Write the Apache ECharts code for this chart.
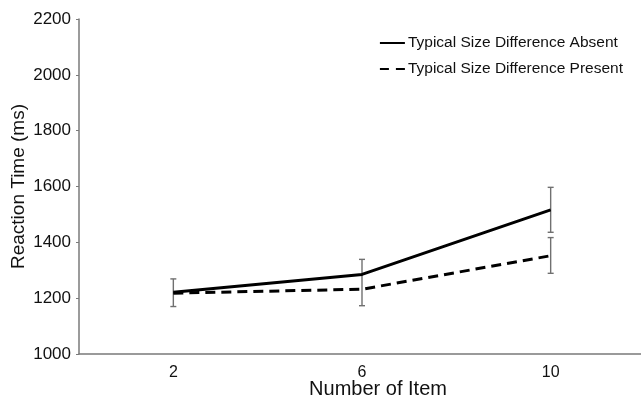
<!DOCTYPE html>
<html>
<head>
<meta charset="utf-8">
<script src="https://cdn.jsdelivr.net/npm/echarts@6/dist/echarts.min.js"></script>
<style>html,body{margin:0;padding:0;background:#fff}#c{width:641px;height:401px}</style>
</head>
<body>
<div id="c"></div>
<script>
var categories = ['2', '6', '10'];
var absent = [1221, 1285, 1516];
var present = [1218, 1232, 1352];
var absentLow = [1170, 1173, 1436];
var absentHigh = [1269, 1339, 1597];
var presentLow = [null, null, 1289];
var presentHigh = [null, null, 1417];
var yTicks = [1000, 1200, 1400, 1600, 1800, 2000, 2200];

var errData = [];
for (var i = 0; i < categories.length; i++) {
  if (absentLow[i] != null) errData.push([i, absentLow[i], absentHigh[i]]);
  if (presentLow[i] != null) errData.push([i, presentLow[i], presentHigh[i]]);
}

var chart = echarts.init(document.getElementById('c'), null, {renderer: 'canvas'});
var font = 'Liberation Sans, Arial, Helvetica, sans-serif';
chart.setOption({
  animation: false,
  backgroundColor: '#fff',
  textStyle: {fontFamily: font},
  grid: {left: 79, top: 19, bottom: 47, width: 566, containLabel: false, outerBoundsMode: 'none'},
  legend: {
    orient: 'vertical', right: 13, top: 30, itemWidth: 25, itemHeight: 10, itemGap: 10,
    textStyle: {fontSize: 15.5, color: '#111', fontFamily: font, padding: [0, 0, 0, -2]},
    data: [
      {name: 'Typical Size Difference Absent', icon: 'path://M0,4L25,4L25,6L0,6Z'},
      {name: 'Typical Size Difference Present', icon: 'path://M0,4L9,4L9,6L0,6ZM16,4L25,4L25,6L16,6Z'}
    ],
    itemStyle: {color: '#000'}
  },
  xAxis: {
    type: 'category', data: categories, boundaryGap: true,
    name: 'Number of Item', nameLocation: 'middle', nameGap: 25, nameMoveOverlap: false,
    nameTextStyle: {fontSize: 20, color: '#111', padding: [0, 0, 0, 32]},
    axisLine: {lineStyle: {color: '#7a7a7a', width: 1.5}},
    axisTick: {length: 3, lineStyle: {color: '#7a7a7a'}},
    axisLabel: {fontSize: 16, color: '#111', margin: 11},
    splitLine: {show: false}
  },
  yAxis: {
    type: 'value', min: 1000, max: 2200, interval: 200,
    name: 'Reaction Time (ms)', nameLocation: 'middle', nameGap: 51, nameMoveOverlap: false,
    nameTextStyle: {fontSize: 19, color: '#111'},
    axisLine: {show: true, lineStyle: {color: '#7a7a7a', width: 1.5}},
    axisTick: {show: true, length: 3, lineStyle: {color: '#7a7a7a'}},
    axisLabel: {fontSize: 17, color: '#111', margin: 8,
      formatter: function (v) { return yTicks.indexOf(v) >= 0 ? String(v) : ''; }},
    splitLine: {show: false}
  },
  series: [
    {
      name: 'Typical Size Difference Absent', type: 'line', data: absent,
      symbol: 'none', lineStyle: {color: '#000', width: 3}, itemStyle: {color: '#000'}, z: 3
    },
    {
      name: 'Typical Size Difference Present', type: 'line', data: present,
      symbol: 'none', lineStyle: {color: '#000', width: 3, type: [10, 6]}, itemStyle: {color: '#000'}, z: 3
    },
    {
      type: 'custom', name: 'err', data: errData, z: 2,
      renderItem: function (params, api) {
        var x = api.value(0);
        var lo = api.coord([x, api.value(1)]);
        var hi = api.coord([x, api.value(2)]);
        var w = 3;
        var st = {stroke: '#707070', lineWidth: 1.4};
        return {
          type: 'group',
          children: [
            {type: 'line', shape: {x1: lo[0], y1: lo[1], x2: hi[0], y2: hi[1]}, style: st},
            {type: 'line', shape: {x1: lo[0] - w, y1: lo[1], x2: lo[0] + w, y2: lo[1]}, style: st},
            {type: 'line', shape: {x1: hi[0] - w, y1: hi[1], x2: hi[0] + w, y2: hi[1]}, style: st}
          ]
        };
      }
    }
  ]
});
</script>
</body>
</html>
